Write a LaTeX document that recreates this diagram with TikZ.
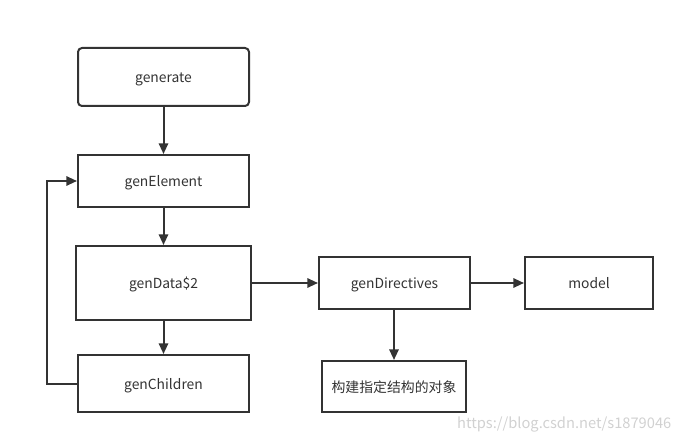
\documentclass[tikz,border=0pt]{standalone}
\usepackage{fontspec}
\setmainfont{Noto Sans CJK SC}
\usetikzlibrary{arrows.meta}
\definecolor{ink}{HTML}{333333}
\tikzset{
  box/.style={draw=ink, line width=1.5pt, minimum width=#1, inner sep=0pt, text height=10.5pt, text depth=2.2pt, font=\fontsize{10.4pt}{12pt}\selectfont, text=ink},
  conn/.style={draw=ink, line width=1.5pt, -{Triangle[length=8pt,width=7pt]}},
}
\begin{document}
\begin{tikzpicture}[x=0.75pt,y=-0.75pt]
\useasboundingbox (0,0) rectangle (685,445);
\node[box=171*0.75pt, minimum height=58*0.75pt, rounded corners=3pt] (gen) at (163.5,77) {generate};
\node[box=171*0.75pt, minimum height=52*0.75pt] (elem) at (163.5,181) {genElement};
\node[box=175*0.75pt, minimum height=74*0.75pt] (data) at (163.5,283) {genData\$2};
\node[box=171*0.75pt, minimum height=57*0.75pt] (child) at (163.5,383.5) {genChildren};
\node[box=151*0.75pt, minimum height=52*0.75pt] (dir) at (394.5,283) {genDirectives};
\node[box=128*0.75pt, minimum height=52*0.75pt] (model) at (589,283) {model};
\node[box=144*0.75pt, minimum height=51*0.75pt] (obj) at (394,386.5) {构建指定结构的对象};
\coordinate (loopb) at (47,383.5);
\coordinate (loopt) at (47,181);
\draw[conn] (gen) -- (elem);
\draw[conn] (elem) -- (data);
\draw[conn] (data) -- (child);
\draw[conn] (data) -- (dir);
\draw[conn] (dir) -- (model);
\draw[conn] (dir.south -| obj.north) -- (obj);
\draw[conn] (child.west) -- (loopb) -- (loopt) -- (elem.west);
\node[text=black!18, font=\fontsize{11pt}{12pt}\selectfont, anchor=east] (wm) at (676,424) {https://blog.csdn.net/s1879046};
\end{tikzpicture}
\end{document}
